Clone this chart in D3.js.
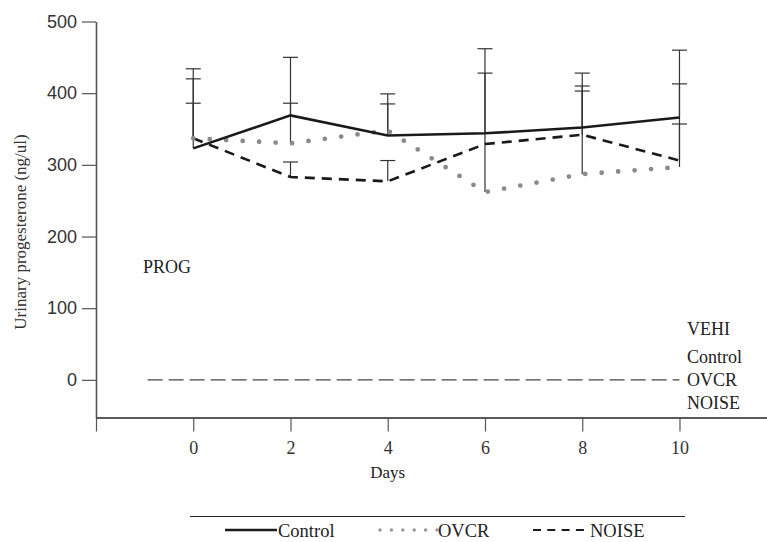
<!DOCTYPE html>
<html>
<head>
<meta charset="utf-8">
<script src="https://cdn.jsdelivr.net/npm/d3@7"></script>
<style>
  body { margin: 0; background: #fff; }
  svg { display: block; }
  .serif { font-family: "Liberation Serif", "DejaVu Serif", serif; }
</style>
</head>
<body>
<div id="chart"></div>
<script>
// data
const days = [0, 2, 4, 6, 8, 10];
const controlMean = [323, 369, 341, 344, 352, 366];
const ovcrMean = [337, 330, 348, 262, 287, 297];
const noiseMean = [337, 283, 277, 329, 342, 306];
// top of the error bars (mean + SE)
const controlUpper = [434, 450, 399, 428, 428, 460];
const ovcrUpper = [420, 386, 385, 462, 403, 357];
const noiseUpper = [386, 304, 306, null, 410, 413];
// vehicle groups, all at zero
const vehiDays = [-1, 10];
const vehiValues = [0, 0];
const yTicks = [0, 100, 200, 300, 400, 500];
const xTicks = [-2, 0, 2, 4, 6, 8, 10];
const vehiLabels = ["Control", "OVCR", "NOISE"];

const width = 767, height = 542;

const svg = d3.select("#chart").append("svg")
  .attr("width", width)
  .attr("height", height);

const x = d3.scaleLinear().domain([-2, 11.8]).range([96, 767]);
const y = d3.scaleLinear().domain([-52.5, 500]).range([417.5, 21.5]);

// y axis
const yAxis = svg.append("g")
  .attr("transform", "translate(96,0)")
  .call(d3.axisLeft(y).tickValues(yTicks).tickSize(14).tickPadding(5).tickSizeOuter(0));
yAxis.select(".domain").attr("stroke", "#555").attr("stroke-width", 1.6);
yAxis.selectAll(".tick line").attr("stroke", "#555").attr("stroke-width", 1.2);
yAxis.selectAll("text")
  .attr("font-family", "'Liberation Sans', Arial, sans-serif")
  .attr("font-size", 18)
  .attr("fill", "#333");

// x axis
const xAxis = svg.append("g")
  .attr("transform", "translate(0,417.5)")
  .call(d3.axisBottom(x).tickValues(xTicks).tickSize(14).tickPadding(10).tickSizeOuter(0)
    .tickFormat(d => d < 0 ? "" : d));
xAxis.select(".domain").attr("stroke", "#222").attr("stroke-width", 1.5);
xAxis.selectAll(".tick line").attr("stroke", "#555").attr("stroke-width", 1.2);
xAxis.selectAll("text")
  .attr("class", "serif")
  .attr("font-size", 18)
  .attr("fill", "#333");

// axis titles
svg.append("text")
  .attr("class", "serif")
  .attr("transform", "translate(20,232) rotate(-90)")
  .attr("text-anchor", "middle")
  .attr("dominant-baseline", "central")
  .attr("font-size", 17)
  .attr("fill", "#333")
  .text("Urinary progesterone (ng/ul)");

svg.append("text")
  .attr("class", "serif")
  .attr("x", x(4))
  .attr("y", 478)
  .attr("text-anchor", "middle")
  .attr("font-size", 17)
  .attr("fill", "#222")
  .text("Days");

// error bars
const bars = [];
days.forEach((d, i) => {
  [[controlMean, controlUpper], [ovcrMean, ovcrUpper], [noiseMean, noiseUpper]].forEach(([m, u]) => {
    if (u[i] != null) bars.push({ day: d, lo: m[i], hi: u[i] });
  });
});

const eb = svg.append("g").attr("stroke", "#333").attr("stroke-width", 1.2);
eb.selectAll("line.v")
  .data(bars)
  .join("line")
  .attr("class", "v")
  .attr("x1", d => x(d.day)).attr("x2", d => x(d.day))
  .attr("y1", d => y(d.lo)).attr("y2", d => y(d.hi));
eb.selectAll("line.c")
  .data(bars)
  .join("line")
  .attr("class", "c")
  .attr("x1", d => x(d.day) - 7.5).attr("x2", d => x(d.day) + 7.5)
  .attr("y1", d => y(d.hi)).attr("y2", d => y(d.hi));

// lines
const line = d3.line().x(d => x(d[0])).y(d => y(d[1]));

svg.append("path")
  .datum(d3.zip(vehiDays, vehiValues))
  .attr("d", line)
  .attr("fill", "none")
  .attr("stroke", "#444")
  .attr("stroke-width", 1.3)
  .attr("stroke-dasharray", "15,6")
  .attr("stroke-dashoffset", -3);

svg.append("path")
  .datum(d3.zip(days, noiseMean))
  .attr("d", line)
  .attr("fill", "none")
  .attr("stroke", "#1a1a1a")
  .attr("stroke-width", 2.6)
  .attr("stroke-dasharray", "10,7");

svg.append("path")
  .datum(d3.zip(days, ovcrMean))
  .attr("d", line)
  .attr("fill", "none")
  .attr("stroke", "#8a8a8a")
  .attr("stroke-width", 4.8)
  .attr("stroke-linecap", "round")
  .attr("stroke-dasharray", "0,16.5");

svg.append("path")
  .datum(d3.zip(days, controlMean))
  .attr("d", line)
  .attr("fill", "none")
  .attr("stroke", "#1a1a1a")
  .attr("stroke-width", 2.6);

// text labels inside the plot
svg.append("text")
  .attr("class", "serif")
  .attr("x", 143).attr("y", 273)
  .attr("font-size", 18)
  .attr("fill", "#222")
  .text("PROG");

svg.append("text")
  .attr("class", "serif")
  .attr("x", 687).attr("y", 335)
  .attr("font-size", 18)
  .attr("fill", "#222")
  .text("VEHI");

svg.selectAll("text.vehi")
  .data(vehiLabels)
  .join("text")
  .attr("class", "vehi serif")
  .attr("x", 687)
  .attr("y", (d, i) => 363 + i * 23)
  .attr("font-size", 18)
  .attr("fill", "#222")
  .text(d => d);

// legend
const legend = svg.append("g");
legend.append("line")
  .attr("x1", 190).attr("x2", 685)
  .attr("y1", 516.5).attr("y2", 516.5)
  .attr("stroke", "#222").attr("stroke-width", 1.2);

const legendItems = [
  { name: "Control", x0: 225, x1: 277, dash: null, color: "#1a1a1a", w: 2.5, cap: "butt" },
  { name: "OVCR", x0: 380, x1: 437, dash: "0,11.4", color: "#999", w: 3.5, cap: "round" },
  { name: "NOISE", x0: 533, x1: 589, dash: "8,6.3", color: "#1a1a1a", w: 2, cap: "butt" }
];
legendItems.forEach(it => {
  legend.append("line")
    .attr("x1", it.x0).attr("x2", it.x1)
    .attr("y1", 530).attr("y2", 530)
    .attr("stroke", it.color)
    .attr("stroke-width", it.w)
    .attr("stroke-linecap", it.cap)
    .attr("stroke-dasharray", it.dash);
  legend.append("text")
    .attr("class", "serif")
    .attr("x", it.x1 + 1)
    .attr("y", 537)
    .attr("font-size", 18.5)
    .attr("fill", "#222")
    .text(it.name);
});
</script>
</body>
</html>
